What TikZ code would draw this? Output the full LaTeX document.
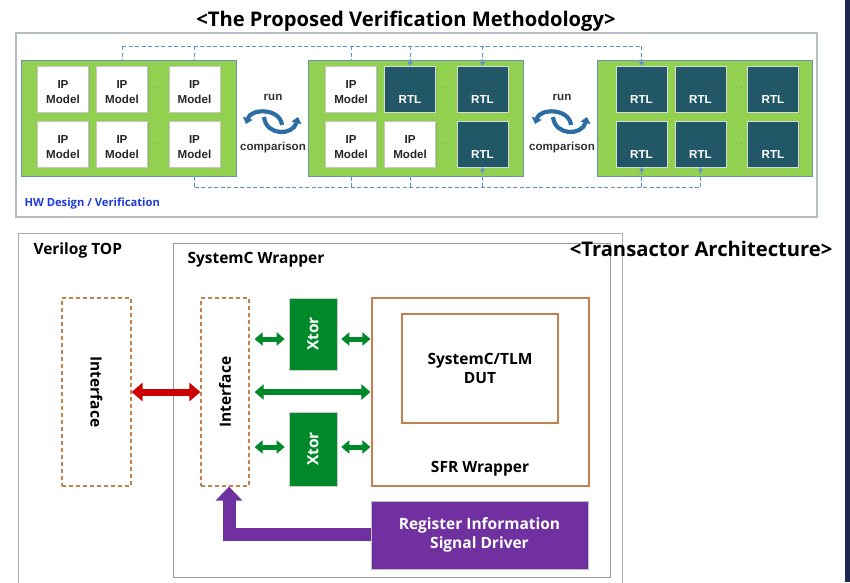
\documentclass[tikz,border=0pt]{standalone}
\usepackage{fontspec}
\setmainfont{Liberation Sans}
\newfontfamily\kfont{Open Sans}
\usetikzlibrary{arrows.meta,shadows,calc}

\definecolor{navystrip}{HTML}{1E2650}
\definecolor{framegray}{HTML}{B4BCC4}
\definecolor{panelgreen}{HTML}{92D050}
\definecolor{paneledge}{HTML}{6F8FB8}
\definecolor{rtlfill}{HTML}{215767}
\definecolor{busblue}{HTML}{5B8FD0}
\definecolor{swapblue}{HTML}{2E6DA4}
\definecolor{hwblue}{HTML}{1F3CD8}
\definecolor{xgreen}{HTML}{00892A}
\definecolor{ifaceorange}{HTML}{C5804D}
\definecolor{regpurple}{HTML}{7030A0}
\definecolor{linkred}{HTML}{CC0000}
\definecolor{boxgray}{HTML}{9A9A9A}
\definecolor{dotgray}{HTML}{5A6A50}

\tikzset{
  smallfont/.style={font=\fontsize{11.6}{15}\selectfont\bfseries},
  panel/.style={draw=paneledge, line width=1pt, fill=panelgreen,
    minimum width=215pt, minimum height=116pt, inner sep=0pt},
  boxshape/.style={draw=gray!45, fill=white, minimum width=51pt, minimum height=46pt,
    inner sep=0pt,
    drop shadow={shadow xshift=1.3pt, shadow yshift=-1.3pt, opacity=0.35}},
  ipbox/.style={boxshape,
    label={[smallfont, align=center, text=black!85, yshift=-3pt]center:IP\\Model}},
  rtlbox/.style={boxshape, fill=rtlfill, draw=gray!30,
    label={[smallfont, text=white, yshift=-11pt]center:RTL}},
  dots/.style={text=dotgray, inner sep=0pt, font=\fontsize{9}{10}\selectfont},
  bus/.style={draw=busblue, line width=0.9pt, dash pattern=on 4pt off 2.5pt},
  busarrow/.style={bus, -{Triangle[width=5pt,length=4pt]}},
  swaparc/.style={draw=swapblue, line width=4.2pt, -{Triangle[width=10pt,length=6pt]}},
  swaptext/.style={smallfont, text=black!80},
  big/.style={font=\kfont\bfseries\fontsize{15.5}{19}\selectfont},
  title/.style={font=\kfont\bfseries\fontsize{20.2}{23}\selectfont},
  ifacebox/.style={draw=ifaceorange, line width=1.2pt, dash pattern=on 4pt off 3pt,
    minimum width=#1, minimum height=188pt, inner sep=0pt},
  xtorbox/.style={fill=xgreen, draw=gray!40, line width=0.6pt,
    minimum width=48pt, minimum height=72pt, inner sep=0pt},
  whitetxt/.style={big, text=white},
  gar/.style={draw=xgreen, line width=5pt,
    {Triangle[width=13pt,length=8pt]}-{Triangle[width=13pt,length=8pt]}},
  garlong/.style={draw=xgreen, line width=6pt,
    {Triangle[width=15pt,length=9pt]}-{Triangle[width=15pt,length=9pt]}},
  rar/.style={draw=linkred, line width=7pt,
    {Triangle[width=18pt,length=11pt]}-{Triangle[width=18pt,length=11pt]}},
  par/.style={draw=regpurple, line width=13pt, line join=miter,
    -{Triangle[width=26pt,length=14pt]}},
  swap/.pic={
    \draw[swaparc] (9,4) .. controls (7,-13) and (-22,-13) .. (-27,3);
    \draw[swaparc] (-9,-4) .. controls (-7,15) and (20,15) .. (25,-4);
  }
}

\begin{document}
\begin{tikzpicture}[x=1pt,y=-1pt]
\useasboundingbox (0,0) rectangle (850,582);
\fill[white] (0,0) rectangle (850,582);
\fill[navystrip] (845,0) rectangle (850,582);

% ---------------- verification methodology ----------------
\node[title] (ttop) at (406,21) {<The Proposed Verification Methodology>};
\draw[framegray, line width=1.4pt] (16,33) rectangle (817,217);

\node[panel] (P1) at (128.5,118) {};
\node[panel] (P2) at (416,118) {};
\node[panel] (P3) at (705,118) {};

% panel 1: all models
\node[ipbox] (a11) at (63,89) {};
\node[ipbox] (a12) at (122,89) {};
\node[ipbox] (a13) at (194.5,89) {};
\node[ipbox] (a21) at (63,144) {};
\node[ipbox] (a22) at (122,144) {};
\node[ipbox] (a23) at (194.5,144) {};
\node[dots] (ad1) at (158,88) {$\cdots$};
\node[dots] (ad2) at (158,144) {$\cdots$};

% panel 2: mixed
\node[ipbox] (b11) at (351,89) {};
\node[rtlbox] (b12) at (410,89) {};
\node[rtlbox] (b13) at (482.5,89) {};
\node[ipbox] (b21) at (351,144) {};
\node[ipbox] (b22) at (410,144) {};
\node[rtlbox] (b23) at (482.5,144) {};
\node[dots] (bd1) at (446,88) {$\cdots$};
\node[dots] (bd2) at (446,144) {$\cdots$};

% panel 3: all RTL
\node[rtlbox] (c11) at (641.5,89) {};
\node[rtlbox] (c12) at (700.5,89) {};
\node[rtlbox] (c13) at (773,89) {};
\node[rtlbox] (c21) at (641.5,144) {};
\node[rtlbox] (c22) at (700.5,144) {};
\node[rtlbox] (c23) at (773,144) {};
\node[dots] (cd1) at (737,88) {$\cdots$};
\node[dots] (cd2) at (737,144) {$\cdots$};

% run / comparison
\node[swaptext] (run1) at (273,97) {run};
\node[swaptext] (cmp1) at (273,147) {comparison};
\pic at (273,121) {swap};
\node[swaptext] (run2) at (562,97) {run};
\node[swaptext] (cmp2) at (562,147) {comparison};
\pic at (562,121) {swap};

% replacement buses
\coordinate (bustop) at (0,46);
\coordinate (busbot) at (0,187);
\draw[bus] (a12.north |- bustop) -- (c11.north |- bustop);
\draw[bus] (a12.north |- bustop) -- (a12.north |- P1.north);
\draw[bus] (a13.north |- bustop) -- (a13.north |- P1.north);
\draw[bus] (b11.north |- bustop) -- (b11.north |- P2.north);
\draw[busarrow] (b12.north |- bustop) -- (b12.north);
\draw[busarrow] (b13.north |- bustop) -- (b13.north);
\draw[busarrow] (c11.north |- bustop) -- (c11.north);

\draw[bus] (a23.south |- busbot) -- (c22.south |- busbot);
\draw[bus] (a23.south |- busbot) -- (a23.south |- P1.south);
\draw[bus] (b21.south |- busbot) -- (b21.south |- P2.south);
\draw[bus] (b22.south |- busbot) -- (b22.south |- P2.south);
\draw[busarrow] (b23.south |- busbot) -- (b23.south);
\draw[busarrow] (c21.south |- busbot) -- (c21.south);
\draw[busarrow] (c22.south |- busbot) -- (c22.south);

\node[anchor=west, text=hwblue, font=\kfont\bfseries\fontsize{11.2}{13}\selectfont] (hw) at (21,204) {HW Design / Verification};

% ---------------- transactor architecture ----------------
\draw[boxgray!80, line width=1pt] (18,600) -- (18,233) -- (622,233) -- (622,600);
\node[big, anchor=west] (vtop) at (30,250) {Verilog TOP};

\node[draw=boxgray, line width=1pt, minimum width=437pt, minimum height=334pt, inner sep=0pt] (scw) at (391.5,410) {};
\node[big, anchor=west] (scwl) at (184,260) {SystemC Wrapper};

\node[title, anchor=east] (tarch) at (836,249) {<Transactor Architecture>};

% interfaces
\node[ifacebox=69pt] (intL) at (96.5,392) {};
\node[big, rotate=-90] (intLt) at (intL) {Interface};
\node[ifacebox=48pt] (intR) at (225,392) {};
\node[big, rotate=90] (intRt) at (intR) {Interface};

% transactors
\node[xtorbox] (xt1) at (313,334) {};
\node[whitetxt, rotate=90] (xt1t) at (xt1) {Xtor};
\node[xtorbox, minimum height=74pt] (xt2) at (313,449) {};
\node[whitetxt, rotate=90] (xt2t) at (xt2) {Xtor};

% SFR wrapper and DUT
\node[draw=ifaceorange, line width=1.1pt, minimum width=217pt, minimum height=188pt, inner sep=0pt] (sfr) at (480.5,392) {};
\node[draw=ifaceorange, line width=1.1pt, minimum width=156pt, minimum height=109pt, inner sep=0pt] (dut) at (480,368.5) {};
\node[big, align=center] (dutt) at (dut) {SystemC/TLM\\DUT};
\node[big] (sfrt) at (480,469) {SFR Wrapper};

% register driver
\node[fill=regpurple, draw=gray!50, line width=0.6pt, minimum width=217pt, minimum height=68pt,
  inner sep=0pt, align=center, whitetxt] (reg) at (479.5,535) {Register Information\\Signal Driver};

% links
\draw[rar] (intL.east |- 0,392) -- (intR.west |- 0,392);
\draw[gar] ([xshift=5pt]intR.east |- 0,339) -- ([xshift=-4pt]xt1.west |- 0,339);
\draw[gar] ([xshift=4pt]xt1.east |- 0,339) -- ([xshift=-1pt]sfr.west |- 0,339);
\draw[gar] ([xshift=5pt]intR.east |- 0,447) -- ([xshift=-4pt]xt2.west |- 0,447);
\draw[gar] ([xshift=4pt]xt2.east |- 0,447) -- ([xshift=-1pt]sfr.west |- 0,447);
\draw[garlong] ([xshift=5pt]intR.east |- 0,392) -- ([xshift=-1pt]sfr.west |- 0,392);
\draw[par] (reg.west |- 0,534) -| ([xshift=4pt]intR.south);
\end{tikzpicture}
\end{document}
